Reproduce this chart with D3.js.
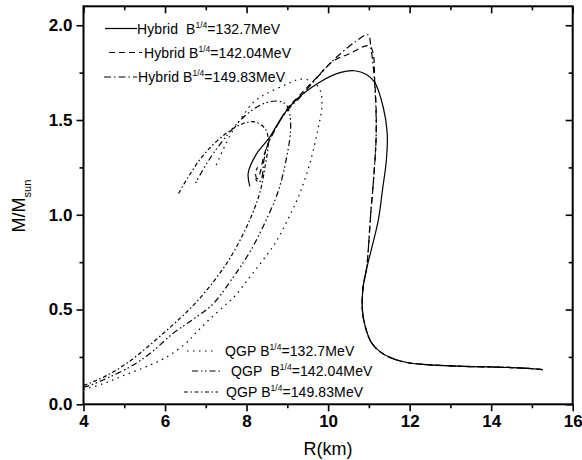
<!DOCTYPE html>
<html>
<head>
<meta charset="utf-8">
<script src="https://cdn.jsdelivr.net/npm/d3@7"></script>
<style>
  body { margin: 0; background: #fff; }
  svg { font-family: Arial, "Liberation Sans", sans-serif; }
</style>
</head>
<body>
<svg id="chart" width="582" height="460"></svg>
<script>
// [R (km), M/Msun]
const lowBranch = [[15.27,0.183],[15.0,0.188],[14.5,0.194],[14.0,0.197],[13.5,0.199],[13.0,0.203],[12.5,0.208],[12.0,0.218],[11.6,0.24],[11.27,0.278],[11.05,0.33],[10.9,0.42],[10.84,0.50],[10.86,0.62],[10.94,0.71]];

const hybrid132 = [[11.1,0.85],[11.23,0.97],[11.34,1.14],[11.43,1.29],[11.45,1.43],[11.35,1.57],[11.14,1.70],[10.94,1.74],[10.65,1.76],[10.29,1.75],[9.80,1.70],[9.14,1.59],[8.82,1.50],[8.57,1.41],[8.24,1.32],[8.04,1.22],[8.08,1.15]];
const hybrid142 = [[10.98,0.80],[11.04,0.99],[11.12,1.2],[11.18,1.43],[11.15,1.68],[11.02,1.89],[10.53,1.85],[10.12,1.81],[9.7,1.72],[9.3,1.63],[9.0,1.56],[8.7,1.45],[8.5,1.36],[8.4,1.29],[8.33,1.22],[8.26,1.19],[8.22,1.22],[8.27,1.25]];
const hybrid149 = [[10.98,0.80],[11.04,0.99],[11.12,1.2],[11.18,1.43],[11.14,1.70],[11.05,1.88],[10.98,1.95],[10.65,1.91],[10.2,1.83],[9.88,1.76],[9.31,1.62],[9.0,1.55],[8.72,1.46],[8.52,1.37],[8.42,1.28],[8.38,1.2],[8.3,1.17],[8.22,1.19]];

const qgp132 = [[4.0,0.078],[4.5,0.11],[5.0,0.153],[5.5,0.195],[6.0,0.245],[6.5,0.32],[6.77,0.38],[7.1,0.45],[7.51,0.53],[7.71,0.57],[8.04,0.66],[8.4,0.76],[8.73,0.86],[9.0,0.97],[9.3,1.11],[9.55,1.27],[9.75,1.45],[9.85,1.58],[9.8,1.66],[9.6,1.705],[9.3,1.715],[9.0,1.69],[8.5,1.64],[8.2,1.60],[7.9,1.52],[7.6,1.42],[7.22,1.245]];
const qgp142 = [[4.0,0.09],[4.16,0.10],[4.6,0.14],[5.22,0.207],[5.7,0.28],[6.2,0.375],[6.7,0.45],[7.18,0.53],[7.67,0.67],[7.88,0.735],[8.15,0.83],[8.41,0.94],[8.77,1.12],[8.98,1.3],[9.08,1.45],[9.05,1.54],[8.95,1.585],[8.75,1.60],[8.4,1.585],[7.95,1.52],[7.45,1.40],[7.05,1.28],[6.73,1.16]];
const qgp149 = [[4.0,0.10],[4.16,0.112],[4.6,0.155],[5.06,0.216],[5.5,0.29],[5.96,0.375],[6.4,0.46],[6.77,0.54],[7.2,0.65],[7.59,0.77],[7.92,0.90],[8.15,1.01],[8.33,1.12],[8.45,1.25],[8.53,1.38],[8.47,1.45],[8.2,1.49],[7.9,1.48],[7.5,1.43],[7.0,1.33],[6.6,1.21],[6.3,1.10]];

const xTicks = [4, 6, 8, 10, 12, 14, 16];
const yTicks = [0.0, 0.5, 1.0, 1.5, 2.0];

const hybridLabels = ["132.7", "142.04", "149.83"];
const qgpLabels = ["132.7", "142.04", "149.83"];

const width = 582, height = 460;
const margin = { top: 6.3, right: 9.3, bottom: 55.7, left: 83.5 };

const svg = d3.select('#chart');

const x = d3.scaleLinear().domain([4, 16]).range([margin.left, width - margin.right]);
const y = d3.scaleLinear().domain([0, 2.1]).range([height - margin.bottom, margin.top]);

const dash = {
  solid: null,
  dashed: '6,4',
  dashDot: '7,3,1.5,3',
  dotted: '1.5,4.5',
  dashDotDot: '6,3,1.5,2.5,1.5,3',
  shortDashDot: '4,2.5,1.5,2.5'
};

const line = d3.line()
  .x(d => x(d[0]))
  .y(d => y(d[1]))
  .curve(d3.curveCatmullRom.alpha(0.5));

const series = [
  { data: lowBranch.concat(hybrid132), style: dash.solid },
  { data: lowBranch.concat(hybrid142), style: dash.dashed },
  { data: lowBranch.concat(hybrid149), style: dash.dashDot },
  { data: qgp132, style: dash.dotted },
  { data: qgp142, style: dash.dashDotDot },
  { data: qgp149, style: dash.shortDashDot }
];

svg.append('g')
  .selectAll('path')
  .data(series)
  .enter()
  .append('path')
  .attr('d', d => line(d.data))
  .attr('fill', 'none')
  .attr('stroke', '#000')
  .attr('stroke-width', 1.2)
  .attr('stroke-dasharray', d => d.style);

// axes: outward ticks bottom/left, inward mirrored ticks top/right
const x0 = margin.left, x1 = width - margin.right;
const y0 = height - margin.bottom, y1 = margin.top;

const xMinor = d3.range(5, 16, 2);
const yMinor = [0.25, 0.75, 1.25, 1.75];

const bottomAxis = svg.append('g')
  .attr('transform', `translate(0,${y0})`)
  .call(d3.axisBottom(x).tickValues(xTicks).tickSize(7).tickFormat(d3.format('d')));
bottomAxis.append('g').call(d3.axisBottom(x).tickValues(xMinor).tickSize(4).tickFormat(''));

const leftAxis = svg.append('g')
  .attr('transform', `translate(${x0},0)`)
  .call(d3.axisLeft(y).tickValues(yTicks).tickSize(7).tickFormat(d3.format('.1f')));
leftAxis.append('g').call(d3.axisLeft(y).tickValues(yMinor).tickSize(4).tickFormat(''));

const topAxis = svg.append('g')
  .attr('transform', `translate(0,${y1})`)
  .call(d3.axisBottom(x).tickValues(xTicks).tickSize(7).tickFormat(''));
topAxis.append('g').call(d3.axisBottom(x).tickValues(xMinor).tickSize(4).tickFormat(''));

const rightAxis = svg.append('g')
  .attr('transform', `translate(${x1},0)`)
  .call(d3.axisLeft(y).tickValues(yTicks).tickSize(7).tickFormat(''));
rightAxis.append('g').call(d3.axisLeft(y).tickValues(yMinor).tickSize(4).tickFormat(''));

svg.selectAll('.domain').remove();
svg.selectAll('.tick line').attr('stroke', '#000').attr('stroke-width', 1.6);
svg.selectAll('.tick text')
  .attr('fill', '#000')
  .attr('font-size', '17px')
  .attr('font-weight', 'bold')
  .attr('font-family', 'Arial, "Liberation Sans", sans-serif');
bottomAxis.selectAll('.tick text').attr('y', 11);
leftAxis.selectAll('.tick text').attr('x', -11);

svg.append('rect')
  .attr('x', x0).attr('y', y1)
  .attr('width', x1 - x0).attr('height', y0 - y1)
  .attr('fill', 'none').attr('stroke', '#000').attr('stroke-width', 2);

// axis titles
svg.append('text')
  .attr('x', 328)
  .attr('y', 454.5)
  .attr('text-anchor', 'middle')
  .attr('font-size', '18px')
  .text('R(km)');

const yTitle = svg.append('text')
  .attr('transform', `translate(25,206) rotate(-90)`)
  .attr('text-anchor', 'middle')
  .attr('font-size', '18px');
yTitle.append('tspan').text('M/M');
yTitle.append('tspan').attr('dy', 6).attr('font-size', '11px').text('sun');

// legends
function legendRow(g, sx0, sx1, ty, tx, prefix, val, style) {
  g.append('line')
    .attr('x1', sx0).attr('x2', sx1)
    .attr('y1', ty - 5).attr('y2', ty - 5)
    .attr('stroke', '#000').attr('stroke-width', 1.2)
    .attr('stroke-dasharray', style);
  const t = g.append('text').attr('x', tx).attr('y', ty)
    .attr('font-size', '14px').attr('letter-spacing', 0.1);
  t.append('tspan').text(prefix + 'B');
  t.append('tspan').attr('dy', -6).attr('font-size', '8.5px').attr('letter-spacing', 0).text('1/4');
  t.append('tspan').attr('dy', 6).text('=' + val + 'MeV');
}

const legTop = svg.append('g');
legendRow(legTop, 105, 137, 33.5, 137, 'Hybrid\u00a0\u00a0', hybridLabels[0], dash.solid);
legendRow(legTop, 109, 142, 57.5, 144, 'Hybrid ', hybridLabels[1], dash.dashed);
legendRow(legTop, 104, 137, 82, 138, 'Hybrid ', hybridLabels[2], dash.dashDot);

const legBot = svg.append('g');
legendRow(legBot, 187, 217, 356, 225, 'QGP ', qgpLabels[0], dash.dotted);
legendRow(legBot, 192, 222, 376, 231, 'QGP\u00a0\u00a0', qgpLabels[1], dash.dashDotDot);
legendRow(legBot, 184, 218, 397, 226, 'QGP ', qgpLabels[2], dash.shortDashDot);
</script>
</body>
</html>
